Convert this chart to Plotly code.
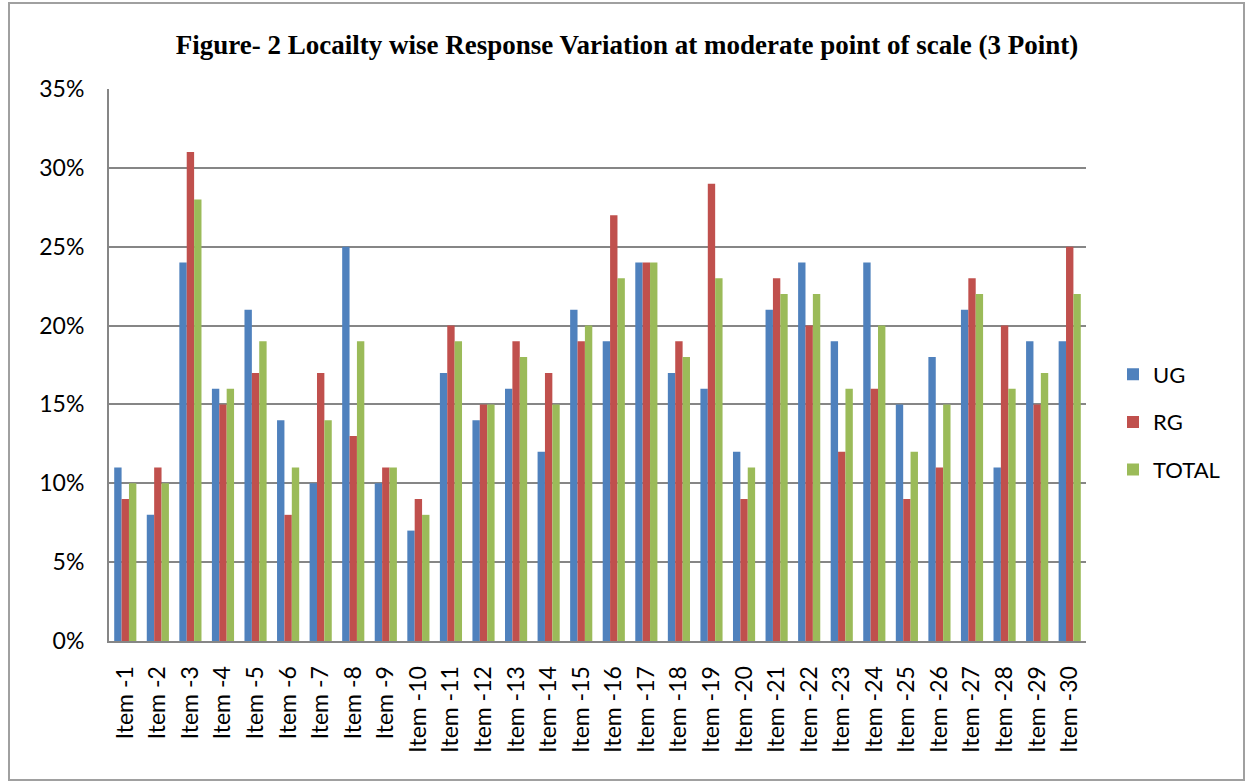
import plotly.graph_objects as go

items = [f"Item -{i}" for i in range(1, 31)]
ug = [11, 8, 24, 16, 21, 14, 10, 25, 10, 7, 17, 14, 16, 12, 21, 19, 24, 17, 16, 12,
      21, 24, 19, 24, 15, 18, 21, 11, 19, 19]
rg = [9, 11, 31, 15, 17, 8, 17, 13, 11, 9, 20, 15, 19, 17, 19, 27, 24, 19, 29, 9,
      23, 20, 12, 16, 9, 11, 23, 20, 15, 25]
total = [10, 10, 28, 16, 19, 11, 14, 19, 11, 8, 19, 15, 18, 15, 20, 23, 24, 18, 23, 11,
         22, 22, 16, 20, 12, 15, 22, 16, 17, 22]
yticks = [0, 0.05, 0.10, 0.15, 0.20, 0.25, 0.30, 0.35]

series = [("UG", ug, "#4F81BD"), ("RG", rg, "#C0504D"), ("TOTAL", total, "#9BBB59")]

fig = go.Figure()
for name, vals, col in series:
    fig.add_trace(go.Bar(
        x=items, y=[v / 100 for v in vals], name=name, legendgroup=name,
        marker=dict(color=col, line=dict(width=0)),
    ))

W, H = 1246, 782
L, R, T, B = 109, W - 1086, 89, H - 641
pw, ph = W - L - R, H - T - B

fig.update_layout(
    width=W, height=H,
    margin=dict(l=L, r=R, t=T, b=B),
    paper_bgcolor="white", plot_bgcolor="white",
    barmode="group", bargap=0.32, bargroupgap=0,
    font=dict(family="Lato, Open Sans, sans-serif", size=22, color="black"),
    title=dict(
        text="<b>Figure- 2 Locailty wise Response Variation at moderate point of scale (3 Point)</b>",
        font=dict(family="Liberation Serif, Times New Roman, serif", size=27, color="black"),
        x=627 / W, xanchor="center", y=1 - 45 / H, yanchor="middle", xref="container", yref="container",
    ),
    xaxis=dict(
        tickangle=-90, showgrid=False, showline=True, linecolor="#868686", linewidth=2,
        ticks="", tickfont=dict(size=23), automargin=False, ticklabelstandoff=14,
    ),
    yaxis=dict(
        range=[0, 0.35], tickvals=yticks, tickformat=".0%", tickfont=dict(size=23),
        showgrid=True, gridcolor="#868686", gridwidth=2,
        showline=True, linecolor="#868686", linewidth=2, ticks="",
        ticklabelstandoff=18, zeroline=False, automargin=False,
    ),
    legend=dict(
        x=(1113 - L) / pw, xanchor="left", y=(641 - 422) / ph, yanchor="middle",
        font=dict(size=22), tracegroupgap=16, itemwidth=30,
    ),
    shapes=[dict(
        type="rect", xref="paper", yref="paper",
        x0=(9 - L) / pw, x1=(1244 - L) / pw, y0=(641 - 780) / ph, y1=(641 - 3) / ph,
        line=dict(color="#A0A0A0", width=2), fillcolor="rgba(0,0,0,0)", layer="below",
    )],
    showlegend=True,
)

fig.write_html(
    "out.html",
    config={"displayModeBar": False},
    post_script="document.body.style.margin='0';document.body.style.overflow='hidden';",
)
